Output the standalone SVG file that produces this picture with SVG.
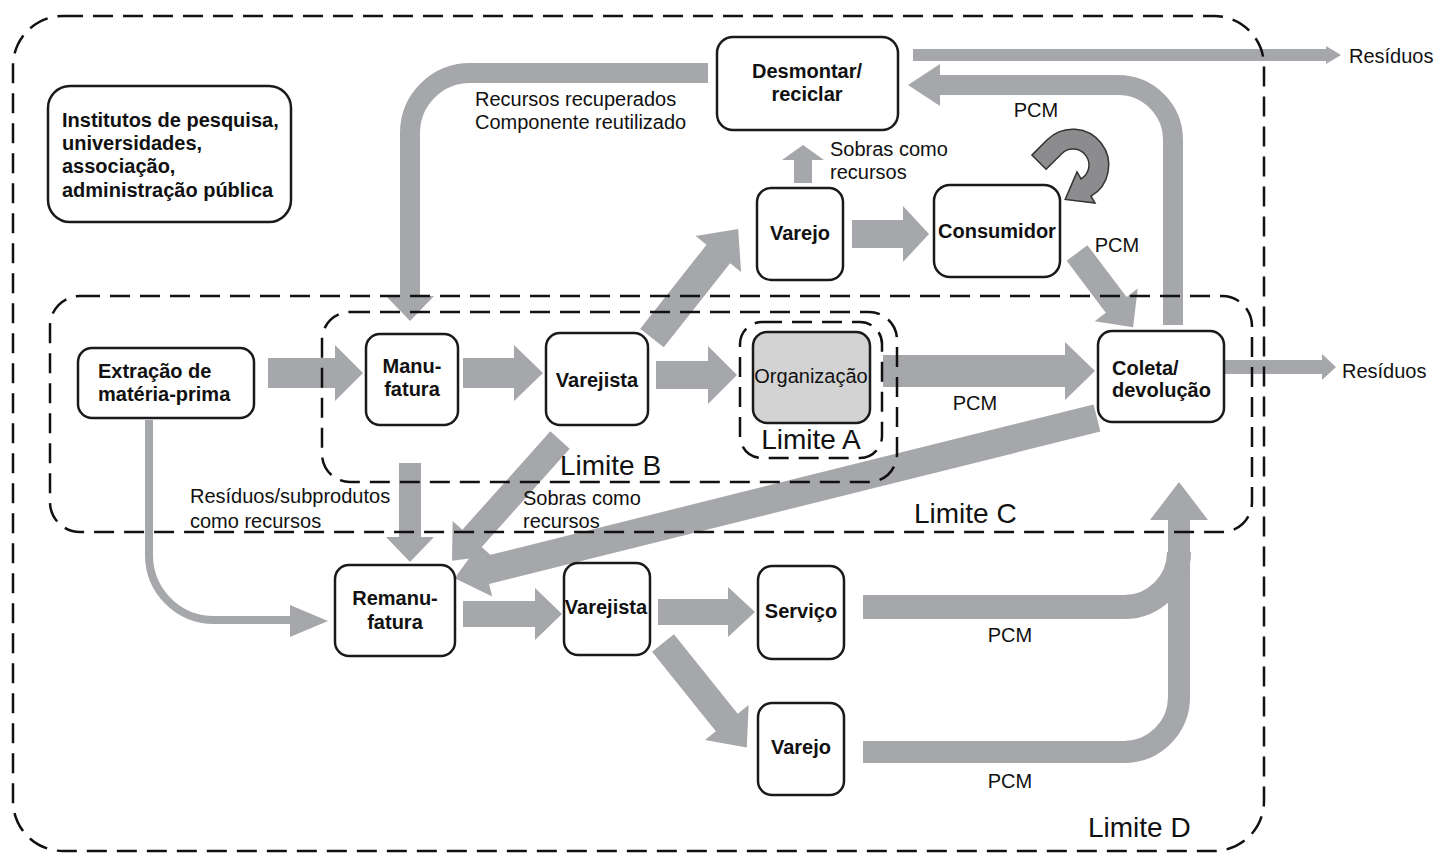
<svg xmlns="http://www.w3.org/2000/svg" width="1436" height="853" viewBox="0 0 1436 853">
  <style>
    .box { fill: #ffffff; stroke: #1a1a1a; stroke-width: 2.5; }
    .org { fill: #d3d3d3; stroke: #1a1a1a; stroke-width: 2.5; }
    .bound { fill: none; stroke: #111111; stroke-width: 2.5; stroke-dasharray: 20 10; }
    .flow { fill: #a6a7aa; }
    .band { fill: none; stroke: #a6a7aa; }
    .b { font-family: "Liberation Sans", Arial, sans-serif; font-weight: bold; font-size: 20px; fill: #111111; }
    .t { font-family: "Liberation Sans", Arial, sans-serif; font-size: 20px; fill: #111111; }
    .lim { font-family: "Liberation Sans", Arial, sans-serif; font-size: 28px; fill: #111111; }
    .mid { text-anchor: middle; }
  </style>

  <!-- flows (gray arrows) -->
  <g id="connectors">
    <!-- Desmontar -> Resíduos -->
    <polygon class="flow" points="913,49 1326,49 1326,46 1341,55 1326,64 1326,61 913,61"/>
    <!-- Desmontar -> Manufatura (recovered resources loop) -->
    <path class="band" stroke-width="20" d="M 708 73 H 470 A 60 60 0 0 0 410 133 V 297"/>
    <polygon class="flow" points="386,296 434,296 410,321"/>
    <!-- Coleta -> Desmontar (PCM loop) -->
    <path class="band" stroke-width="20" d="M 1173 325 V 140 A 55 55 0 0 0 1118 85 H 938"/>
    <polygon class="flow" points="940,64 908,85 940,106"/>
    <!-- Varejo -> Desmontar -->
    <polygon class="flow" points="794,183 794,160 782,160 803,145 824,160 812,160 812,183"/>
    <!-- Varejo -> Consumidor -->
    <polygon class="flow" points="852,220 903,220 903,206 929,234 903,262 903,248 852,248"/>
    <!-- Consumidor reuse loop -->
    <path d="M 1031.9 155.1 L 1047.5 139.5 A 36 36 0 1 1 1091 196.2 L 1095 203.1 L 1065.2 199.5 L 1077 171.9 L 1081 178.9 A 16 16 0 1 0 1061.7 153.7 L 1046.1 169.3 Z" fill="#8c8c8e" stroke="#333333" stroke-width="1.5"/>
    <!-- Consumidor -> Coleta -->
    <g transform="translate(1077,253) rotate(52.9)">
      <polygon class="flow" points="0,-13 65,-13 65,-27 93,0 65,27 65,13 0,13"/>
    </g>
    <!-- Varejista -> Varejo -->
    <g transform="translate(652,338) rotate(-51.7)">
      <polygon class="flow" points="0,-15 107,-15 107,-29 139,0 107,29 107,15 0,15"/>
    </g>
    <!-- main chain -->
    <polygon class="flow" points="268,358 335,358 335,345 363,373 335,401 335,388 268,388"/>
    <polygon class="flow" points="463,358 514,358 514,345 543,373 514,401 514,388 463,388"/>
    <polygon class="flow" points="656,361 708,361 708,346 737,375 708,404 708,389 656,389"/>
    <polygon class="flow" points="883,355 1065,355 1065,342 1095,371 1065,400 1065,387 883,387"/>
    <!-- Coleta -> Resíduos -->
    <polygon class="flow" points="1224,360 1322,360 1322,354 1336,367 1322,380 1322,374 1224,374"/>
    <!-- Manufatura -> Remanufatura -->
    <polygon class="flow" points="399,463 399,537 386,537 410,562 434,537 421,537 421,463"/>
    <!-- Varejista -> Remanufatura -->
    <g transform="translate(560,440) rotate(131.8)">
      <polygon class="flow" points="0,-13 132,-13 132,-26 162,0 132,26 132,13 0,13"/>
    </g>
    <!-- Coleta -> Remanufatura -->
    <g transform="translate(1097,418) rotate(166)">
      <polygon class="flow" points="0,-14 630,-14 630,-27 662,0 630,27 630,14 0,14"/>
    </g>
    <!-- Extração -> Remanufatura -->
    <path class="band" stroke-width="8" d="M 149 420 V 555 A 65 65 0 0 0 214 620 H 292"/>
    <polygon class="flow" points="290,605 328,621 290,637"/>
    <!-- Remanufatura -> Varejista -->
    <polygon class="flow" points="463,601 535,601 535,588 562,614 535,640 535,627 463,627"/>
    <!-- Varejista -> Serviço -->
    <polygon class="flow" points="658,599 728,599 728,587 755,612 728,637 728,625 658,625"/>
    <!-- Varejista -> Varejo -->
    <g transform="translate(663,643) rotate(51.3)">
      <polygon class="flow" points="0,-14 102,-14 102,-28 134,0 102,28 102,14 0,14"/>
    </g>
    <!-- Serviço / Varejo -> Coleta -->
    <path class="band" stroke-width="22" d="M 863 752 H 1124 A 55 55 0 0 0 1179 697 V 518"/>
    <path class="band" stroke-width="24" d="M 863 607 H 1124 A 55 55 0 0 0 1179 552"/>
    <polygon class="flow" points="1150,520 1179,482 1208,520"/>

    <!-- flow labels -->
    <text class="t" x="1349" y="63">Resíduos</text>
    <text class="t" x="1342" y="378">Resíduos</text>
    <text class="t" x="475" y="106">Recursos recuperados</text>
    <text class="t" x="475" y="129">Componente reutilizado</text>
    <text class="t" x="830" y="156">Sobras como</text>
    <text class="t" x="830" y="179">recursos</text>
    <text class="t mid" x="1036" y="117">PCM</text>
    <text class="t mid" x="1117" y="252">PCM</text>
    <text class="t mid" x="975" y="410">PCM</text>
    <text class="t" x="190" y="503">Resíduos/subprodutos</text>
    <text class="t" x="190" y="528">como recursos</text>
    <text class="t" x="523" y="505">Sobras como</text>
    <text class="t" x="523" y="528">recursos</text>
    <text class="t mid" x="1010" y="642">PCM</text>
    <text class="t mid" x="1010" y="788">PCM</text>
  </g>

  <!-- system boundaries -->
  <g id="boundaries">
    <rect class="bound" x="13" y="16" width="1251" height="835" rx="50"/>
    <rect class="bound" x="50" y="296" width="1202" height="236" rx="30"/>
    <rect class="bound" x="322" y="312" width="575" height="170" rx="28"/>
    <rect class="bound" x="740" y="322" width="142" height="136" rx="22"/>
    <text class="lim mid" x="811" y="449">Limite A</text>
    <text class="lim" x="560" y="475">Limite B</text>
    <text class="lim" x="914" y="523">Limite C</text>
    <text class="lim" x="1088" y="837">Limite D</text>
  </g>

  <!-- nodes -->
  <g id="institutos">
    <rect class="box" x="48" y="86" width="243" height="136" rx="22"/>
    <text class="b" x="62" y="127">Institutos de pesquisa,</text>
    <text class="b" x="62" y="150">universidades,</text>
    <text class="b" x="62" y="173">associação,</text>
    <text class="b" x="62" y="197">administração pública</text>
  </g>
  <g id="desmontar">
    <rect class="box" x="717" y="37" width="181" height="93" rx="16"/>
    <text class="b mid" x="807" y="78">Desmontar/</text>
    <text class="b mid" x="807" y="101">reciclar</text>
  </g>
  <g id="varejo-consumo">
    <rect class="box" x="757" y="188" width="86" height="92" rx="14"/>
    <text class="b mid" x="800" y="240">Varejo</text>
  </g>
  <g id="consumidor">
    <rect class="box" x="934" y="185" width="126" height="92" rx="16"/>
    <text class="b mid" x="997" y="238">Consumidor</text>
  </g>
  <g id="extracao">
    <rect class="box" x="78" y="348" width="176" height="70" rx="14"/>
    <text class="b" x="98" y="378">Extração de</text>
    <text class="b" x="98" y="401">matéria-prima</text>
  </g>
  <g id="manufatura">
    <rect class="box" x="366" y="334" width="92" height="91" rx="14"/>
    <text class="b mid" x="412" y="373">Manu-</text>
    <text class="b mid" x="412" y="396">fatura</text>
  </g>
  <g id="varejista">
    <rect class="box" x="546" y="333" width="102" height="92" rx="14"/>
    <text class="b mid" x="597" y="387">Varejista</text>
  </g>
  <g id="organizacao">
    <rect class="org" x="753" y="332" width="117" height="91" rx="14"/>
    <text class="t mid" x="811" y="383">Organização</text>
  </g>
  <g id="coleta">
    <rect class="box" x="1098" y="331" width="126" height="91" rx="14"/>
    <text class="b" x="1112" y="375">Coleta/</text>
    <text class="b" x="1112" y="397">devolução</text>
  </g>
  <g id="remanufatura">
    <rect class="box" x="335" y="565" width="120" height="91" rx="14"/>
    <text class="b mid" x="395" y="605">Remanu-</text>
    <text class="b mid" x="395" y="629">fatura</text>
  </g>
  <g id="varejista-reman">
    <rect class="box" x="564" y="563" width="86" height="92" rx="14"/>
    <text class="b mid" x="606" y="614">Varejista</text>
  </g>
  <g id="servico">
    <rect class="box" x="758" y="566" width="86" height="93" rx="14"/>
    <text class="b mid" x="801" y="618">Serviço</text>
  </g>
  <g id="varejo-reman">
    <rect class="box" x="758" y="703" width="86" height="92" rx="14"/>
    <text class="b mid" x="801" y="754">Varejo</text>
  </g>
</svg>
